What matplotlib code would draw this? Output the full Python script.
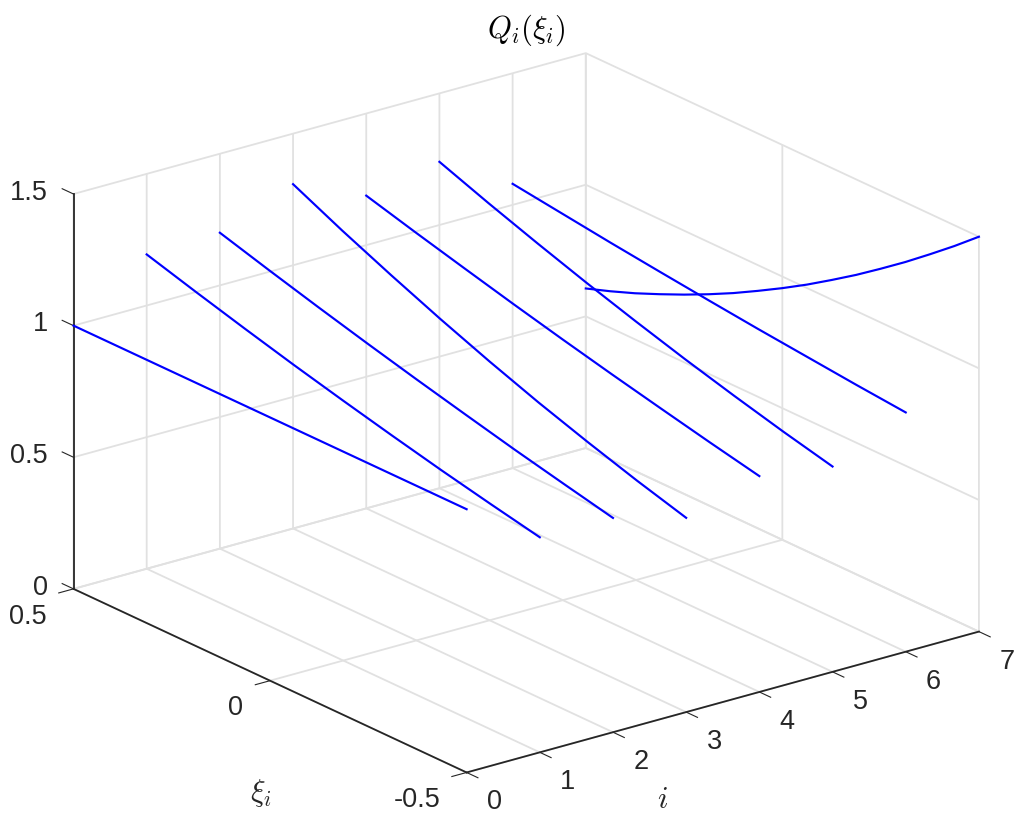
import numpy as np
import matplotlib
matplotlib.use('Agg')
import matplotlib.pyplot as plt

plt.rcParams['font.family'] = ['Liberation Sans', 'DejaVu Sans']
plt.rcParams['mathtext.fontset'] = 'cm'

xi = [0.5, 0.375, 0.25, 0.125, 0.0, -0.125, -0.25, -0.375, -0.5]
Q0 = [1.0, 1.0, 1.0, 1.0, 1.0, 1.0, 1.0, 1.0, 1.0]
Q1 = [1.194, 1.139, 1.086, 1.035, 0.987, 0.941, 0.897, 0.856, 0.817]
Q2 = [1.200, 1.145, 1.092, 1.041, 0.992, 0.945, 0.899, 0.856, 0.814]
Q3 = [1.308, 1.219, 1.136, 1.057, 0.983, 0.914, 0.851, 0.792, 0.738]
Q4 = [1.188, 1.136, 1.086, 1.037, 0.990, 0.945, 0.902, 0.860, 0.820]
Q5 = [1.240, 1.170, 1.104, 1.041, 0.982, 0.926, 0.874, 0.825, 0.780]
Q6 = [1.080, 1.055, 1.030, 1.007, 0.985, 0.964, 0.945, 0.926, 0.909]
curves = [Q0, Q1, Q2, Q3, Q4, Q5, Q6]

xi7 = [0.5, 0.4375, 0.375, 0.3125, 0.25, 0.1875, 0.125, 0.0625, 0.0,
       -0.0625, -0.125, -0.1875, -0.25, -0.3125, -0.375, -0.4375, -0.5]
Q7 = [0.606, 0.639, 0.675, 0.715, 0.757, 0.802, 0.850, 0.902, 0.956,
      1.013, 1.074, 1.137, 1.204, 1.273, 1.346, 1.421, 1.500]

i_ticks = [0, 1, 2, 3, 4, 5, 6, 7]
xi_ticks = [-0.5, 0, 0.5]
xi_labels = ['-0.5', '0', '0.5']
z_ticks = [0, 0.5, 1, 1.5]
z_labels = ['0', '0.5', '1', '1.5']

W, H = 1024, 830
fig = plt.figure(figsize=(W / 100, H / 100), dpi=100)
# axes is bigger than the figure, mplot3d leaves lots of margin
size = 977
cx, cy = 513, 426
ax = fig.add_axes([(cx - size / 2) / W, 1 - (cy + size / 2) / H, size / W, size / H],
                  projection='3d', proj_type='ortho')
ax.patch.set_alpha(0)
ax.view_init(elev=21, azim=-127.5)
ax.set_box_aspect((1, 1, 0.655))

for k, q in enumerate(curves):
    ax.plot([i_ticks[k]] * len(xi), xi, q, color='#0000ff', lw=1.55)
ax.plot([i_ticks[7]] * len(xi7), xi7, Q7, color='#0000ff', lw=1.55)

ax.set_xlim(0, 7, view_margin=0)
ax.set_ylim(-0.5, 0.5, view_margin=0)
ax.set_zlim(0, 1.5, view_margin=0)
ax.set_xticks(i_ticks)
ax.set_xticklabels([str(t) for t in i_ticks], ha='left', va='center')
ax.set_yticks(xi_ticks)
ax.set_yticklabels(xi_labels, ha='right', va='center')
ax.set_zticks(z_ticks)
ax.set_zticklabels(z_labels, ha='right', va='center')

grey = '#e1e1e1'
dark = '#262626'
for axis in (ax.xaxis, ax.yaxis, ax.zaxis):
    axis.set_pane_color((1, 1, 1, 0))
    axis.pane.set_edgecolor(grey)
    axis.pane.set_linewidth(1.3)
    axis.line.set_color(dark)
    axis.line.set_linewidth(1.3)
    axis._axinfo['grid'].update(color=grey, linewidth=1.3)
ax.xaxis._axinfo['tick'].update(inward_factor=0.36, outward_factor=0.0)
ax.yaxis._axinfo['tick'].update(inward_factor=0.36, outward_factor=0.0)
ax.zaxis._axinfo['tick'].update(inward_factor=0.0, outward_factor=0.36)
# z ticks run along the xi direction like the original
ax.zaxis._get_tickdir = lambda pos: 1
ax.tick_params(labelsize=19.5, colors=dark, width=1.3)
ax.tick_params(axis='x', pad=11)
ax.tick_params(axis='y', pad=11)
ax.tick_params(axis='z', pad=2.4)

fig.text(526 / W, 1 - 30 / H, r'$Q_i(\xi_i)$', fontsize=22, ha='center', va='center')
fig.text(663 / W, 1 - 800 / H, r'$i$', fontsize=22, ha='center', va='center', color=dark)
fig.text(261 / W, 1 - 793 / H, r'$\xi_i$', fontsize=22, ha='center', va='center', color=dark)

fig.savefig('out.png', dpi=100)
